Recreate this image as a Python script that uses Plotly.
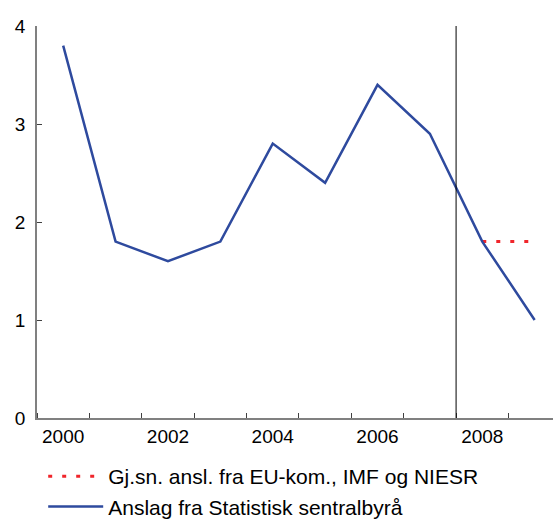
import plotly.graph_objects as go

years = [2000, 2001, 2002, 2003, 2004, 2005, 2006, 2007, 2008, 2009]
ssb_values = [3.8, 1.8, 1.6, 1.8, 2.8, 2.4, 3.4, 2.9, 1.8, 1.0]
avg_years = [2008, 2009]
avg_values = [1.8, 1.8]
x_tick_vals = [2000, 2002, 2004, 2006, 2008]
x_tick_text = ["2000", "2002", "2004", "2006", "2008"]
y_tick_vals = [0, 1, 2, 3, 4]
divider_year = 2007.5

name_avg = "Gj.sn. ansl. fra EU-kom., IMF og NIESR"
name_ssb = "Anslag fra Statistisk sentralbyrå"

FONT = "Liberation Sans, Arial, sans-serif"

fig = go.Figure()
fig.add_trace(go.Scatter(x=avg_years, y=avg_values, mode="lines", name=name_avg,
                         line=dict(color="#F0252B", width=3, dash="4px,10px")))
fig.add_trace(go.Scatter(x=years, y=ssb_values, mode="lines", name=name_ssb,
                         line=dict(color="#2E4A9E", width=2.5)))

fig.add_shape(type="line", xref="x", yref="y", x0=divider_year, x1=divider_year,
              y0=0, y1=4, line=dict(color="black", width=1))

fig.update_layout(
    width=553, height=519,
    margin=dict(l=37, r=0, t=26, b=101, autoexpand=False),
    paper_bgcolor="white", plot_bgcolor="white",
    font=dict(family=FONT, size=19, color="black"),
    showlegend=True,
    legend=dict(x=0.012, y=-0.097, xanchor="left", yanchor="top",
                font=dict(family=FONT, size=21, color="black"),
                itemwidth=55,
                bgcolor="rgba(0,0,0,0)", tracegroupgap=0),
    xaxis=dict(range=[1999.5, 2009.35], showgrid=False, zeroline=False, automargin=False,
               showline=True, linecolor="#808080", linewidth=1.5,
               tickmode="array", tickvals=x_tick_vals, ticktext=x_tick_text,
               ticks="", ticklen=0,
               minor=dict(tickmode="linear", tick0=1999.5, dtick=1, ticks="inside",
                          ticklen=5, tickcolor="#404040", tickwidth=1, showgrid=False)),
    yaxis=dict(range=[0, 4], showgrid=False, zeroline=False, automargin=False,
               showline=True, linecolor="#808080", linewidth=1.5,
               tickmode="array", tickvals=y_tick_vals, ticklabelstandoff=6,
               ticks="inside", ticklen=5, tickcolor="#404040", tickwidth=1),
)

fig.write_html("out.html", config={"displayModeBar": False},
               post_script="document.body.style.margin='0';document.body.style.overflow='hidden';")
